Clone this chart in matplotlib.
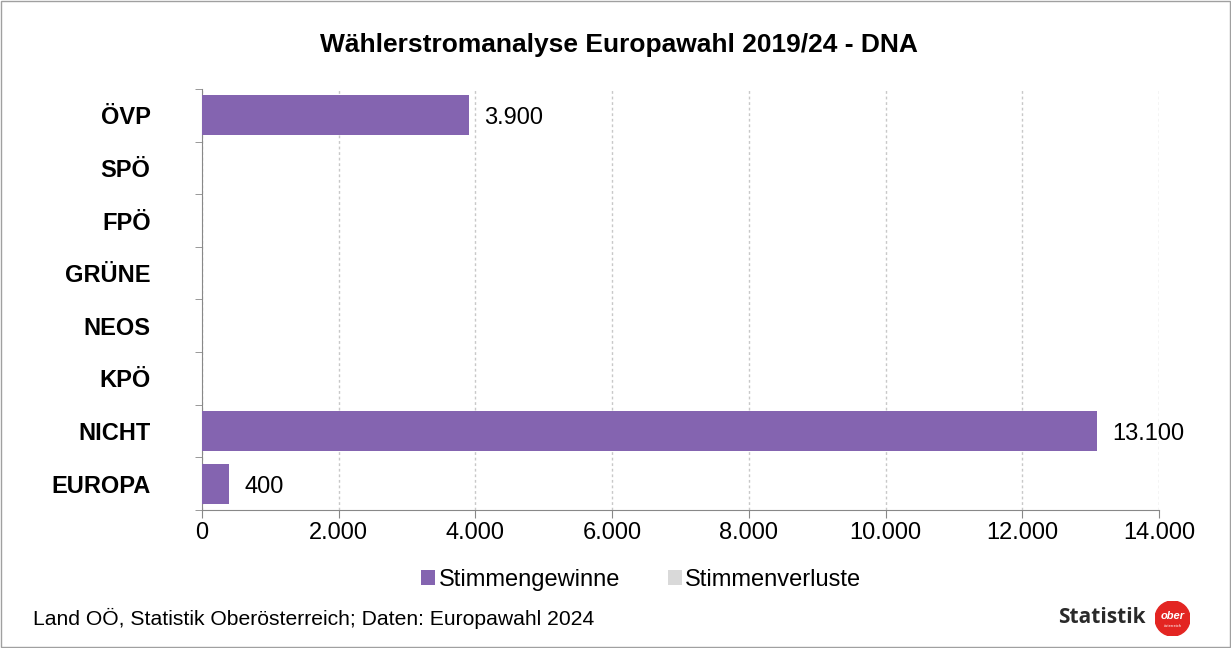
import numpy as np
import matplotlib.pyplot as plt
from matplotlib.patches import Rectangle, Circle
from matplotlib.ticker import FuncFormatter, MultipleLocator

plt.rcParams['font.family'] = ['Liberation Sans', 'DejaVu Sans']

parteien = ["ÖVP", "SPÖ", "FPÖ", "GRÜNE", "NEOS", "KPÖ", "NICHT", "EUROPA"]
gewinne = [3900, 0, 0, 0, 0, 0, 13100, 400]
verluste = [0, 0, 0, 0, 0, 0, 0, 0]

lila = "#8464b0"
grau = "#d9d9d9"

def fmt(v):
    return f"{int(v):,}".replace(",", ".")

fig = plt.figure(figsize=(12.31, 6.48), dpi=100)
fig.patches.append(Rectangle((0.001, 0.001), 0.998, 0.997, transform=fig.transFigure,
                             fill=False, edgecolor="#a0a0a0", lw=1))

ax = fig.add_axes([0.1641, 0.2130, 0.7774, 0.6497])
y = np.arange(len(parteien))
ax.barh(y, gewinne, height=0.76, color=lila, label="Stimmengewinne", zorder=3)
ax.barh(y, verluste, height=0.76, color=grau, label="Stimmenverluste", zorder=3)

for yi, v in zip(y, gewinne):
    if v > 0:
        ax.text(v + 220, yi + 0.06, fmt(v), va="center", ha="left", fontsize=17)

ax.set_xlim(0, 14000)
ax.set_ylim(len(parteien) - 0.5, -0.5)
ax.xaxis.set_major_locator(MultipleLocator(2000))
ax.xaxis.set_major_formatter(FuncFormatter(lambda v, p: fmt(v)))
ax.set_yticks(y)
ax.set_yticklabels(parteien, fontsize=17, fontweight="bold")
ax.set_yticks(np.arange(-0.5, len(parteien)), minor=True)
ax.tick_params(axis="y", which="major", length=0, pad=37)
ax.tick_params(axis="y", which="minor", length=5, color="#888888")
ax.tick_params(axis="x", labelsize=17, length=6, color="#888888", pad=3)
ax.grid(axis="x", linestyle=(0, (2, 2)), color="#c8c8c8", lw=1, zorder=0)
for s in ["top", "right"]:
    ax.spines[s].set_visible(False)
for s in ["left", "bottom"]:
    ax.spines[s].set_color("#888888")

fig.text(0.503, 0.930, "Wählerstromanalyse Europawahl 2019/24 - DNA", ha="center", va="center",
         fontsize=19, fontweight="bold")

leg = fig.legend(loc="center", bbox_to_anchor=(0.521, 0.105), ncol=2, frameon=False,
                 fontsize=17, handlelength=0.6, handleheight=0.6, handletextpad=0.15,
                 columnspacing=2.0, borderpad=0)

fig.text(0.027, 0.045, "Land OÖ, Statistik Oberösterreich; Daten: Europawahl 2024",
         ha="left", va="center", fontsize=15.2)

fig.text(0.9305, 0.047, "Statistik", ha="right", va="center", fontsize=15, fontweight="bold",
         family=["Open Sans", "DejaVu Sans"], color="#2a2a2a")
logo = fig.add_axes([0.9383, 0.0185, 0.0284, 0.054])
logo.add_patch(Circle((0.5, 0.5), 0.5, color="#e32522"))
logo.text(0.5, 0.58, "ober", color="white", ha="center", va="center", fontsize=8,
          fontweight="bold", style="italic")
logo.text(0.5, 0.30, "österreich", color="white", ha="center", va="center", fontsize=3)
logo.set_xlim(0, 1)
logo.set_ylim(0, 1)
logo.axis("off")

fig.savefig("out.png", dpi=100)
